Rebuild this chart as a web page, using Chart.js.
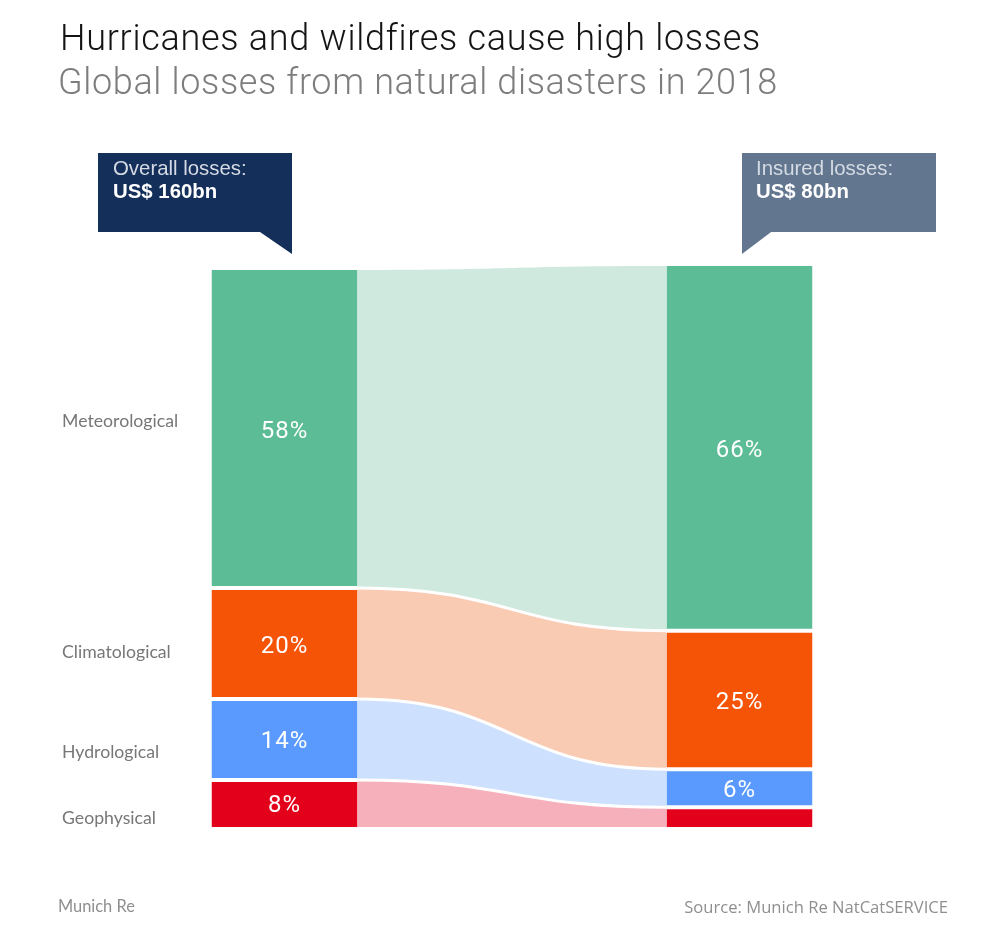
<!DOCTYPE html>
<html>
<head>
<meta charset="utf-8">
<title>Hurricanes and wildfires cause high losses</title>
<script src="https://cdn.jsdelivr.net/npm/chart.js@4"></script>
<style>
    html, body { margin: 0; padding: 0; background: #fff; }
    #page { position: relative; width: 1000px; height: 928px; overflow: hidden; }
    #myChart { position: absolute; left: 0; top: 0; }
    .txt { position: absolute; white-space: nowrap; font-family: "Liberation Sans", sans-serif; }
    #title { left: 60px; top: 17px; font-family: Roboto, sans-serif; font-weight: 300; font-size: 36px; letter-spacing: 0.72px; color: #141414; }
    #subtitle { left: 58px; top: 61px; font-family: Roboto, sans-serif; font-weight: 300; font-size: 36px; letter-spacing: 0.64px; color: #7d7d7d; }
    .callout { position: absolute; top: 153px; width: 194px; height: 101px; }
    #calloutLeft { left: 98px; background: #152f5b; clip-path: polygon(0 0, 100% 0, 100% 100%, 83.5% 79px, 0 79px); }
    #calloutRight { left: 742px; background: #62778f; clip-path: polygon(0 0, 100% 0, 100% 79px, 15% 79px, 0 100%); }
    .calloutText { font-size: 20.4px; line-height: 23px; color: #d5dbe4; }
    .calloutText b { color: #fff; }
    .category { font-family: Lato, sans-serif; font-size: 17.7px; color: #777; left: 62px; }
    .foot { font-size: 16.6px; color: #8f8f8f; top: 895px; }
</style>
</head>
<body>
<div id="page">
    <canvas id="myChart" width="1000" height="928"></canvas>
    <div class="txt" id="title">Hurricanes and wildfires cause high losses</div>
    <div class="txt" id="subtitle">Global losses from natural disasters in 2018</div>
    <div class="callout" id="calloutLeft"></div>
    <div class="callout" id="calloutRight"></div>
    <div class="txt calloutText" style="left:113px;top:157px">Overall losses:<br><b>US$ 160bn</b></div>
    <div class="txt calloutText" style="left:756px;top:157px">Insured losses:<br><b>US$ 80bn</b></div>
    <div class="txt foot" style="left:58px;font-family:Lato,sans-serif;font-size:16.4px;top:896px">Munich Re</div>
    <div class="txt foot" style="right:52px;font-family:'Open Sans',sans-serif">Source: Munich Re NatCatSERVICE</div>
</div>
<script>
// Top to bottom, the way the picture reads
const categories = ['Meteorological', 'Climatological', 'Hydrological', 'Geophysical'];
const columns = ['Overall losses', 'Insured losses'];

// Band heights (they don't quite follow the printed shares)
const overallHeights = [56.7, 19.8, 14.4, 8.4];
const insuredHeights = [65.0, 24.7, 6.8, 3.5];

// Printed shares, the insured geophysical band has no label
const overallLabels = ['58%', '20%', '14%', '8%'];
const insuredLabels = ['66%', '25%', '6%', ''];

const barColors = ['#5bbc96', '#f55306', '#5a9aff', '#e2001a'];
const ribbonColors = ['#cfe9df', '#f9cbb3', '#cde0fe', '#f6b0bb'];

// Vertical centre of the row names on the left, in page pixels
const categoryLabelTops = [421, 652, 752, 818];

categories.forEach((name, i) => {
    const el = document.createElement('div');
    el.className = 'txt category';
    el.textContent = name;
    el.style.top = (categoryLabelTops[i] - 11) + 'px';
    document.getElementById('page').appendChild(el);
});

const last = categories.length - 1;

// Flows between the two columns, drawn under the bars
const ribbons = {
    id: 'ribbons',
    beforeDatasetsDraw(chart) {
        const ctx = chart.ctx;
        const y = chart.scales.y;
        const first = chart.getDatasetMeta(0).data;
        const x0 = first[0].x + first[0].width / 2;
        const x1 = first[1].x - first[1].width / 2;
        const mx = (x0 + x1) / 2;

        // stack tops, bottom band first
        let a = 0, b = 0;
        const edges = [{ a: y.getPixelForValue(0), b: y.getPixelForValue(0) }];
        for (let i = last; i >= 0; i--) {
            a += overallHeights[i];
            b += insuredHeights[i];
            edges.push({ a: y.getPixelForValue(a), b: y.getPixelForValue(b) });
        }

        ctx.save();
        edges.slice(1).forEach((top, n) => {
            const bottom = edges[n];
            ctx.beginPath();
            ctx.moveTo(x0, top.a);
            ctx.bezierCurveTo(mx, top.a, mx, top.b, x1, top.b);
            ctx.lineTo(x1, bottom.b);
            ctx.bezierCurveTo(mx, bottom.b, mx, bottom.a, x0, bottom.a);
            ctx.closePath();
            ctx.fillStyle = ribbonColors[last - n];
            ctx.fill();
        });
        // white lines between the flows
        ctx.strokeStyle = '#fff';
        ctx.lineWidth = 3;
        edges.slice(1, -1).forEach(e => {
            ctx.beginPath();
            ctx.moveTo(x0, e.a);
            ctx.bezierCurveTo(mx, e.a, mx, e.b, x1, e.b);
            ctx.stroke();
        });
        ctx.restore();
    }
};

// Percent labels in the middle of each bar
const barLabels = {
    id: 'barLabels',
    afterDatasetsDraw(chart) {
        const ctx = chart.ctx;
        ctx.save();
        ctx.font = '400 24px Roboto';
        ctx.letterSpacing = '1px';
        ctx.fillStyle = '#fff';
        ctx.textAlign = 'center';
        ctx.textBaseline = 'middle';
        chart.data.datasets.forEach((ds, d) => {
            chart.getDatasetMeta(d).data.forEach((bar, c) => {
                const text = ds.labelTexts[c];
                if (text) ctx.fillText(text, bar.x, (bar.y + bar.base) / 2 + 3);
            });
        });
        ctx.restore();
    }
};

// Stack grows upward so the datasets go bottom band first
const datasets = categories.map((name, i) => ({
    label: name,
    data: [overallHeights[i], insuredHeights[i]],
    labelTexts: [overallLabels[i], insuredLabels[i]],
    backgroundColor: barColors[i],
    borderColor: '#fff',
    borderWidth: { top: i === 0 ? 0 : 2, bottom: i === last ? 0 : 2, left: 0, right: 0 },
    borderSkipped: false,
    inflateAmount: 0,
    barThickness: 146
})).reverse();

new Chart(document.getElementById('myChart').getContext('2d'), {
    type: 'bar',
    data: { labels: columns, datasets: datasets },
    plugins: [ribbons, barLabels],
    options: {
        responsive: false,
        animation: false,
        layout: { padding: { left: 57, right: 33, top: 266, bottom: 101 } },
        plugins: { legend: { display: false }, tooltip: { enabled: false } },
        scales: {
            x: { stacked: true, display: false },
            y: { stacked: true, display: false, min: 0, max: 100 }
        }
    }
});
</script>
</body>
</html>
